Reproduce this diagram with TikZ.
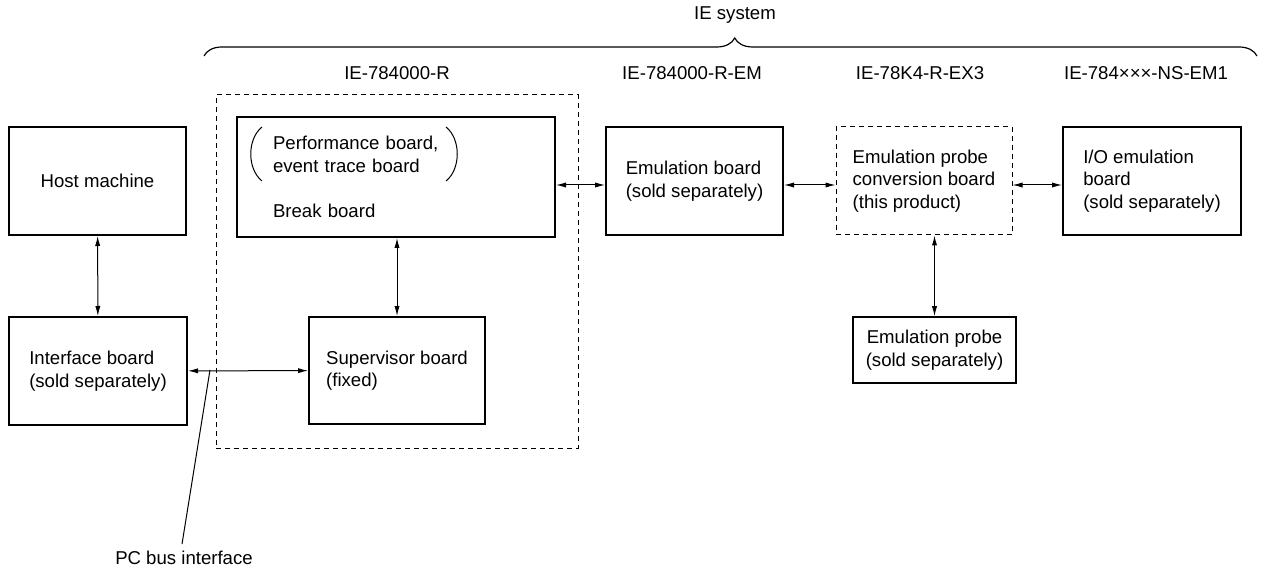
\documentclass[tikz,border=0pt]{standalone}
\usepackage{fontspec}
\setmainfont{Liberation Sans}
\usepackage{tikz}
\usetikzlibrary{arrows.meta}
\usetikzlibrary{decorations.pathreplacing}

\tikzset{
  board/.style={draw,line width=1pt,align=left,inner sep=0pt},
  optboard/.style={draw,line width=0.5pt,dash pattern=on 2.5pt off 2pt,align=left,inner sep=0pt},
  link/.style={line width=0.5pt,{Latex[length=5pt,width=2.6pt]}-{Latex[length=5pt,width=2.6pt]}},
}

\begin{document}
\begin{tikzpicture}[line join=miter,x=0.5pt,y=-0.5pt,font=\fontsize{9.3}{11.25}\selectfont]
\useasboundingbox (0,0) rectangle (1261,571);
% system brace and titles
\node (iesys) at (735,15) {IE system};
\draw[line width=0.6pt,decorate,decoration={brace,amplitude=9pt,aspect=0.504}] (204,56) -- (1257,56);
\node (tmain) at (397,73) {IE-784000-R};
\node (tem) at (692,73) {IE-784000-R-EM};
\node (tex) at (920,73) {IE-78K4-R-EX3};
\node (tns) at (1146,73) {IE-784×××-NS-EM1};
% IE-784000-R frame
\node[optboard,minimum width=181pt,minimum height=176.5pt] (iemain) at (397,271.5) {};
% boards
\node[board,minimum width=88.5pt,minimum height=54pt] (host) at (97.5,181) {Host machine};
\node[board,minimum width=89pt,minimum height=54pt] (iface) at (98,371) {Interface board\\(sold separately)};
\node[board,inner xsep=18pt,text width=123pt,minimum height=60pt] (brk) at (396,177)
  {Performance board,\\event trace board\\[11.25pt]Break board};
\node[board,minimum width=88pt,minimum height=53.5pt] (sup) at (397,370.5) {Supervisor board\\(fixed)};
\node[board,minimum width=88.5pt,minimum height=54pt] (emu) at (694.5,181) {Emulation board\\(sold separately)};
\node[optboard,minimum width=88pt,minimum height=54pt] (conv) at (924,181)
  {Emulation probe\\conversion board\\(this product)};
\node[board,minimum width=89pt,minimum height=54pt] (io) at (1152,181)
  {I/O emulation\\board\\(sold separately)};
\node[draw,line width=0.8pt,align=center,inner sep=0pt,minimum width=81.5pt,minimum height=33pt] (probe) at (934.5,350)
  {Emulation probe\\(sold separately)};
% brackets round the optional boards
\begin{scope}[shift={(brk.north west)},line width=0.5pt]
\draw (26,11) .. controls (11,23) and (11,53) .. (26,65);
\draw (210,11) .. controls (225,23) and (225,53) .. (210,65);
\end{scope}
% connections
\draw[link] (host) -- (iface);
\draw[link] (iface) -- (sup);
\draw[link] (brk.south -| sup.north) -- (sup.north);
\draw[link] ([yshift=-2pt]emu.west -| brk.east) -- ([yshift=-2pt]emu.west);
\draw[link] ([yshift=-2pt]emu.east) -- ([yshift=-2pt]conv.west);
\draw[link] ([yshift=-2pt]conv.east) -- ([yshift=-2pt]io.west);
\draw[link] (conv.south -| probe.north) -- (probe.north);
% PC bus pointer
\coordinate (busjoint) at (210,370);
\node (pcbus) at (184,558) {PC bus interface};
\draw[line width=0.5pt] (busjoint) -- ([xshift=-1pt]pcbus.north);
\end{tikzpicture}
\end{document}
